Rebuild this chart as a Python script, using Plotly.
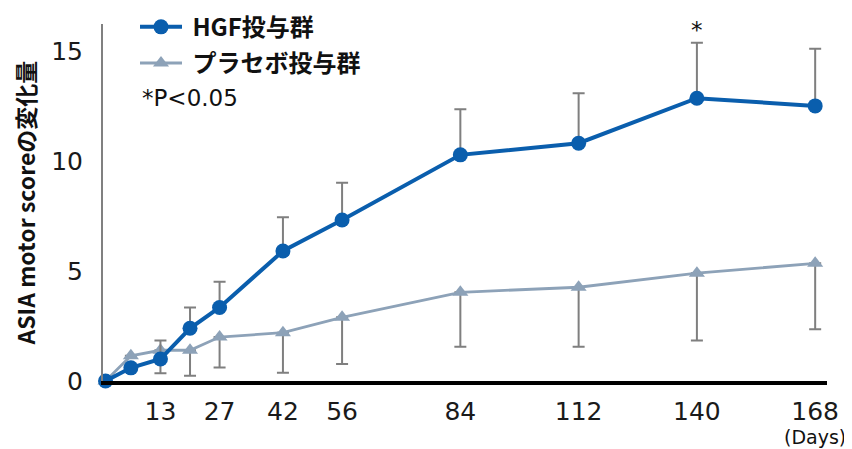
import plotly.graph_objects as go

days = [0, 6, 13, 20, 27, 42, 56, 84, 112, 140, 168]
hgf = [0.0, 0.6, 1.0, 2.4, 3.35, 5.92, 7.33, 10.3, 10.83, 12.88, 12.53]
hgf_err = [0, 0, 0.84, 0.95, 1.17, 1.54, 1.7, 2.08, 2.28, 2.53, 2.6]
placebo = [0.0, 1.15, 1.4, 1.4, 2.0, 2.2, 2.9, 4.04, 4.27, 4.91, 5.36]
placebo_err = [0, 0, 1.05, 1.16, 1.38, 1.82, 2.13, 2.48, 2.71, 3.07, 3.0]
zeros = [0] * len(days)

x_tickvals = [13, 27, 42, 56, 84, 112, 140, 168]
x_ticktext = ["13", "27", "42", "56", "84", "112", "140", "168"]
y_tickvals = [0, 5, 10, 15]

HGF_COLOR = "#0A5EAD"
PLA_COLOR = "#8DA2B8"
ERR_COLOR = "#7F7F7F"
CJK = "Noto Sans CJK JP"
LAT = "DejaVu Sans"

fig = go.Figure()
fig.add_trace(go.Scatter(
    x=days, y=placebo, mode="lines+markers", name="<b>\u00a0プラセボ投与群</b>",
    legendgroup="p", legendrank=2,
    line=dict(color=PLA_COLOR, width=2.8),
    marker=dict(symbol="triangle-up", size=14, color=PLA_COLOR),
    error_y=dict(type="data", symmetric=False, array=zeros, arrayminus=placebo_err,
                 color=ERR_COLOR, thickness=2, width=6),
    cliponaxis=False,
))
fig.add_trace(go.Scatter(
    x=days, y=hgf, mode="lines+markers", name="<b>\u00a0HGF投与群</b>",
    legendgroup="h", legendrank=1,
    line=dict(color=HGF_COLOR, width=4),
    marker=dict(symbol="circle", size=15, color=HGF_COLOR),
    error_y=dict(type="data", symmetric=False, array=hgf_err, arrayminus=zeros,
                 color=ERR_COLOR, thickness=2, width=6),
    cliponaxis=False,
))

fig.update_layout(
    width=844, height=441, autosize=False,
    margin=dict(l=95, r=25, t=16, b=68, autoexpand=False),
    plot_bgcolor="white", paper_bgcolor="white",
    showlegend=True,
    legend=dict(
        x=0.0442, xanchor="left", y=1.054, yanchor="top",
        font=dict(family=CJK, size=24, color="#111111"),
        tracegroupgap=2, bgcolor="rgba(0,0,0,0)", itemwidth=42,
    ),
    xaxis=dict(
        range=[-0.6, 170.8], showgrid=False, zeroline=False,
        showline=True, linecolor="#000000", linewidth=4,
        tickmode="array", tickvals=x_tickvals, ticktext=x_ticktext,
        ticks="", ticklabelstandoff=5, tickangle=0, automargin=False,
        tickfont=dict(family=LAT, size=25, color="#1a1a1a"),
    ),
    yaxis=dict(
        range=[0, 16.26], showgrid=False, zeroline=False,
        showline=True, linecolor="#808080", linewidth=2,
        tickmode="array", tickvals=y_tickvals, automargin=False,
        ticks="", ticklabelstandoff=13,
        tickfont=dict(family=LAT, size=25, color="#1a1a1a"),
    ),
    annotations=[
        dict(text="<b>ASIA motor scoreの変化量</b>", xref="paper", yref="paper",
             x=-0.134, y=0.5, textangle=-90, showarrow=False,
             font=dict(family=CJK, size=23, color="#111111")),
        dict(text="*P<0.05", xref="paper", yref="paper", x=0.051, y=0.792,
             xanchor="left", yanchor="middle", showarrow=False,
             font=dict(family=LAT, size=23, color="#111111")),
        dict(text="*", xref="x", yref="y", x=140, y=16.0, showarrow=False,
             yanchor="middle", font=dict(family=LAT, size=23, color="#111111")),
        dict(text="(Days)", xref="x", yref="paper", x=168, y=-0.158,
             yanchor="middle", showarrow=False,
             font=dict(family=LAT, size=19, color="#111111")),
    ],
)

fig.write_html("out.html")
